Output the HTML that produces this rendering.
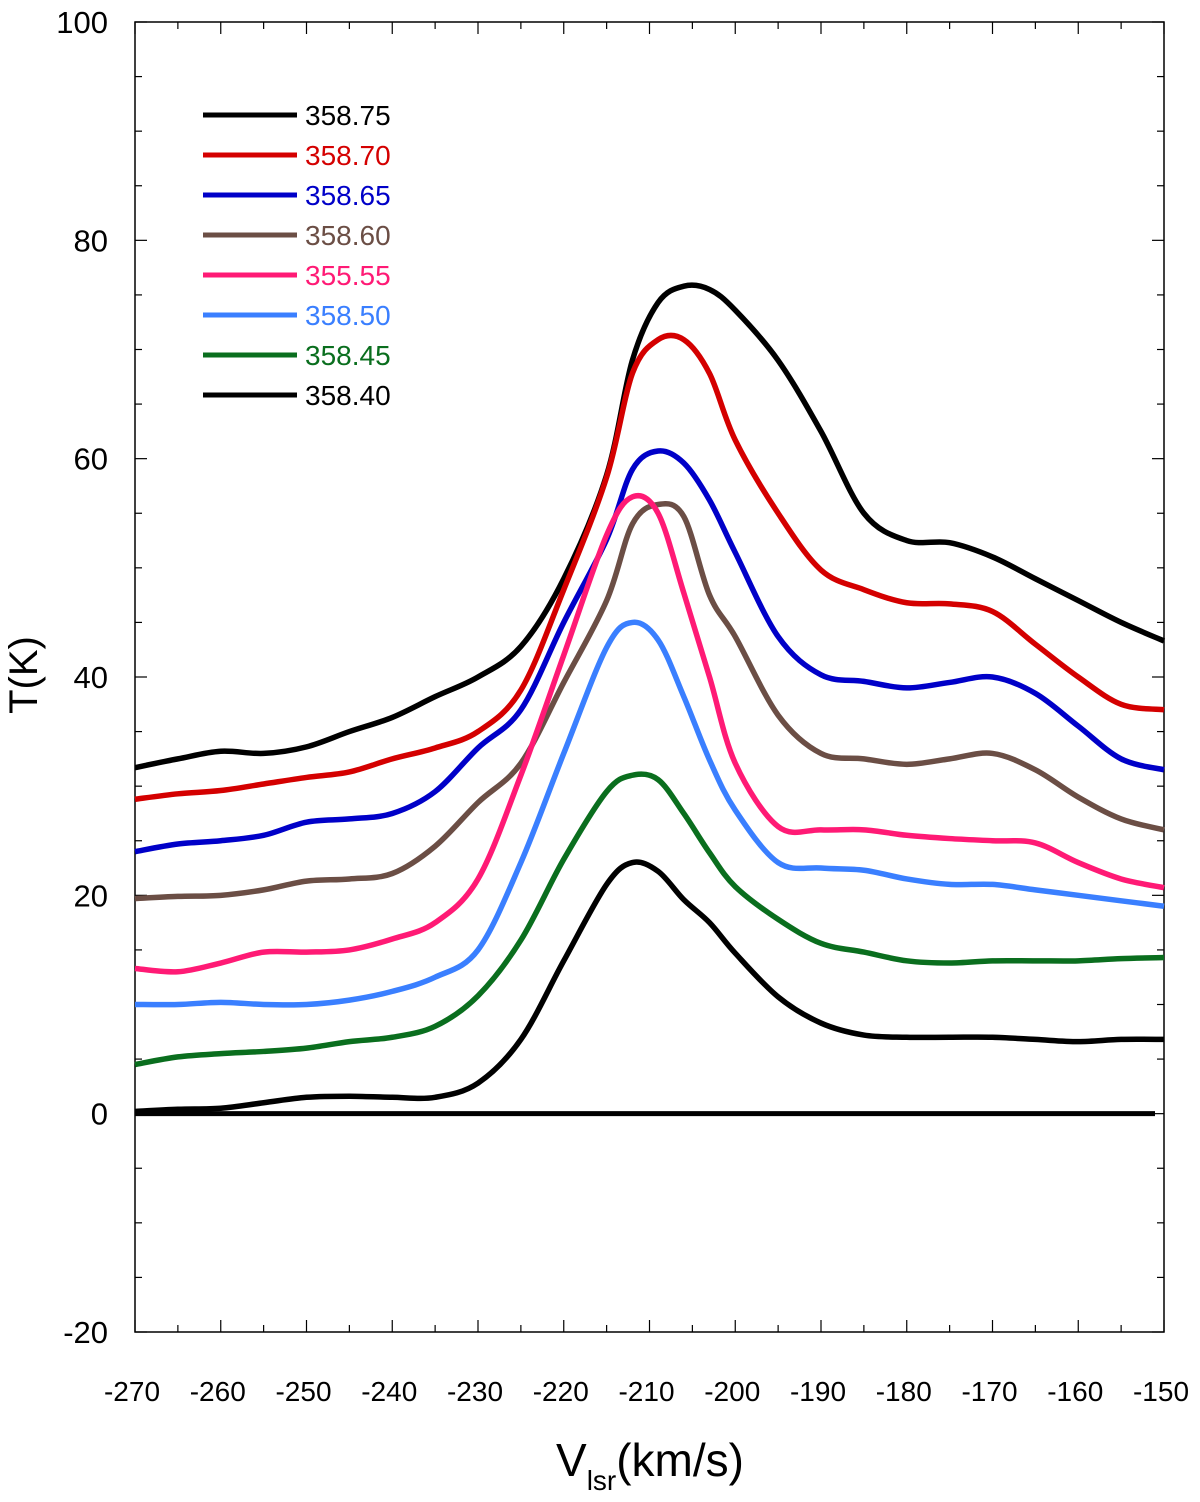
<!DOCTYPE html>
<html><head><meta charset="utf-8"><style>
html,body{margin:0;padding:0;background:#fff}
svg{display:block;font-family:"Liberation Sans",sans-serif}
</style></head><body>
<svg id="chart" width="1200" height="1502" viewBox="0 0 1200 1502">
<g id="axes"></g><g id="series"></g><g id="legend"></g>
<text transform="translate(37,675) rotate(-90)" text-anchor="middle" font-size="40">T(K)</text>
<text x="650" y="1476" text-anchor="middle" font-size="46">V<tspan font-size="28" dy="14">lsr</tspan><tspan dy="-14">(km/s)</tspan></text>
</svg>
<script>
const velocities=[-270,-265,-260,-255,-250,-245,-240,-235,-230,-225,-220,-215,-212,-209,-206,-203,-200,-195,-190,-185,-180,-175,-170,-165,-160,-155,-150];
const seriesNames=["358.75","358.70","358.65","358.60","355.55","358.50","358.45","358.40"];
const seriesColors=["#000000","#d40000","#0000c8","#6b4e45","#ff1a75","#3a7fff","#0a6e1e","#000000"];
const s1=[31.7,32.5,33.2,33,33.6,35,36.3,38.2,40,42.8,49,58.5,69,74.3,75.8,75.5,73.6,69,62.5,55,52.5,52.3,51,49,47,45,43.3];
const s2=[28.8,29.3,29.6,30.2,30.8,31.3,32.5,33.5,35,38.8,48,58.3,67.8,70.9,70.9,67.8,61.7,55,49.8,48,46.8,46.7,46,43,40,37.5,37];
const s3=[24,24.7,25,25.5,26.7,27,27.5,29.5,33.5,37,45,52.6,59,60.7,59.6,56.2,51.4,43.7,40.2,39.6,39,39.5,40,38.5,35.5,32.5,31.5];
const s4=[19.7,19.9,20,20.5,21.3,21.5,22,24.5,28.5,32.1,39.5,47,54,55.8,54.7,47.5,43.7,36.5,33,32.5,32,32.5,33,31.5,29,27,26];
const s5=[13.3,13,13.8,14.8,14.8,15,16,17.5,21.5,31,42,53,56.5,55,47.7,40,32.1,26.3,26,26,25.5,25.2,25,24.8,23,21.5,20.7];
const s6=[10,10,10.2,10,10,10.4,11.2,12.5,15,23,33,42.7,45,43.4,38.2,32.4,27.8,23,22.5,22.3,21.5,21,21,20.5,20,19.5,19];
const s7=[4.5,5.2,5.5,5.7,6,6.6,7,8,10.8,15.9,23.3,29.5,31,30.6,27.5,23.9,20.8,17.8,15.6,14.8,14,13.8,14,14,14,14.2,14.3];
const s8=[0.2,0.4,0.5,1,1.5,1.6,1.5,1.5,2.8,6.8,14,21,23,22.2,19.6,17.5,14.7,10.7,8.3,7.2,7,7,7,6.8,6.6,6.8,6.8];
const xTicks=[-270,-260,-250,-240,-230,-220,-210,-200,-190,-180,-170,-160,-150];
const yTicks=[-20,0,20,40,60,80,100];
const allSeries=[s1,s2,s3,s4,s5,s6,s7,s8];

const X0=135,X1=1164,Y0=1332,Y1=22;
const xs=v=>X0+(v+270)/120*(X1-X0);
const ys=t=>Y0-(t+20)/120*(Y0-Y1);
const NS="http://www.w3.org/2000/svg";
function mk(tag,attrs,parent){const e=document.createElementNS(NS,tag);for(const k in attrs)e.setAttribute(k,attrs[k]);parent.appendChild(e);return e;}
const axes=document.getElementById('axes');
const frame=mk('rect',{x:X0,y:Y1,width:X1-X0,height:Y0-Y1,fill:'none',stroke:'#000','stroke-width':1.5},axes);


for(let v=-270;v<=-150;v+=5){const maj=v%10===0;const L=maj?12:7;const x=xs(v);
 mk('line',{x1:x,y1:Y0,x2:x,y2:Y0-L,stroke:'#000','stroke-width':1.2},axes);
 mk('line',{x1:x,y1:Y1,x2:x,y2:Y1+L,stroke:'#000','stroke-width':1.2},axes);}
for(let t=-20;t<=100;t+=5){const maj=t%20===0;const L=maj?12:7;const y=ys(t);
 mk('line',{x1:X0,y1:y,x2:X0+L,y2:y,stroke:'#000','stroke-width':1.2},axes);
 mk('line',{x1:X1,y1:y,x2:X1-L,y2:y,stroke:'#000','stroke-width':1.2},axes);}
xTicks.forEach(v=>{const t=mk('text',{x:xs(v)-3,y:1401,'text-anchor':'middle','font-size':28},axes);t.textContent=v;
 
 });
yTicks.forEach(v=>{const t=mk('text',{x:108,y:ys(v)+11,'text-anchor':'end','font-size':31},axes);t.textContent=v;
 
 });
const zl=mk('line',{x1:X0,y1:ys(0),x2:1155,y2:ys(0),stroke:'#000','stroke-width':5},axes);



function pathFor(vals){const p=velocities.map((v,i)=>[xs(v),ys(vals[i])]);let d=`M${p[0][0]},${p[0][1]}`;
 for(let i=0;i<p.length-1;i++){const a=p[Math.max(0,i-1)],b=p[i],c=p[i+1],e=p[Math.min(p.length-1,i+2)];
  d+=` C${b[0]+(c[0]-a[0])/6},${b[1]+(c[1]-a[1])/6} ${c[0]-(e[0]-b[0])/6},${c[1]-(e[1]-b[1])/6} ${c[0]},${c[1]}`;}
 return d;}
const sg=document.getElementById('series');
allSeries.forEach((vals,i)=>{const p=mk('path',{d:pathFor(vals),fill:'none',stroke:seriesColors[i],'stroke-width':5.5,'stroke-linejoin':'round'},sg);
 
 });
const lg=document.getElementById('legend');
seriesNames.forEach((n,i)=>{const y=115+i*40;
 const l=mk('line',{x1:203,y1:y,x2:297,y2:y,stroke:seriesColors[i],'stroke-width':5},lg);
 
 
 const t=mk('text',{x:305,y:y+10,'font-size':28,fill:seriesColors[i]},lg);t.textContent=n;
 
 });
</script>
</body></html>
